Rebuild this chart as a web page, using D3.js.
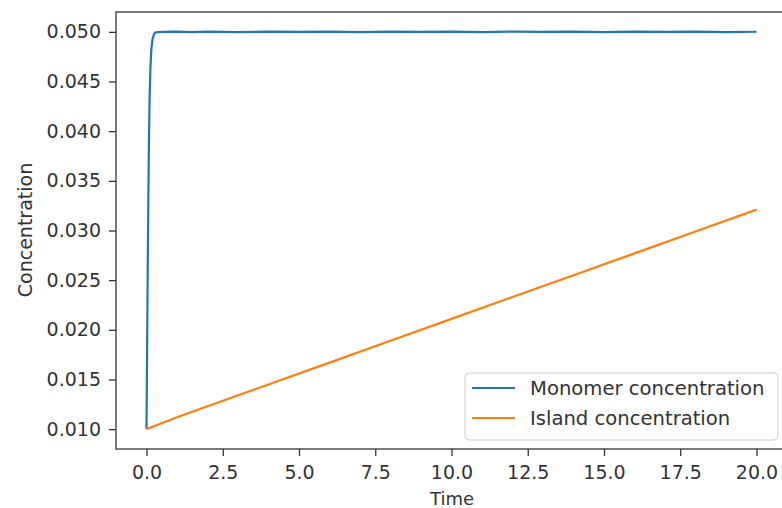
<!DOCTYPE html>
<html><head><meta charset="utf-8">
<script src="https://cdn.jsdelivr.net/npm/d3@7"></script>
<style>body{margin:0;background:#fff;} text{font-family:"DejaVu Sans",sans-serif;}</style>
</head><body><svg id="c" width="782" height="508"></svg>
<script>
const monomerTime = [0,0.02,0.04,0.06,0.08,0.1,0.13,0.16,0.2,0.25,0.3,0.5,1,1.5,2,3,4,5,6,7,8,9,10,11,12,13,14,15,16,17,18,19,20];
const monomerConc = [0.010,0.018,0.026,0.033,0.039,0.043,0.0465,0.0483,0.0493,0.0498,0.04995,0.0500,0.05003,0.04998,0.05002,0.04997,0.05003,0.04999,0.05002,0.04998,0.05003,0.04999,0.05002,0.04997,0.05003,0.04999,0.05002,0.04998,0.05003,0.04999,0.05002,0.04998,0.05001];
const islandTime = [0,0.5,1,2,4,6,8,10,12,14,16,18,20];
const islandConc = [0.0100,0.0106,0.0112,0.0123,0.0145,0.0167,0.0189,0.0211,0.0233,0.0255,0.0277,0.0299,0.0321];
const xTicks = [0,2.5,5,7.5,10,12.5,15,17.5,20];
const yTicks = [0.010,0.015,0.020,0.025,0.030,0.035,0.040,0.045,0.050];
const seriesNames = ["Monomer concentration","Island concentration"];
const colors = ["#1f77b4","#ff7f0e"];

const FS = 19;
const svg = d3.select("#c");
const L=116, R=787, T=12, B=449;
const x = d3.scaleLinear().domain([-1,21]).range([L,R]);
const y = d3.scaleLinear().domain([0.008,0.052]).range([B,T]);

const g = svg.append("g");
const line = d3.line().x(d=>x(d[0])).y(d=>y(d[1]));
const series = [d3.zip(monomerTime, monomerConc), d3.zip(islandTime, islandConc)];
series.forEach((s,i)=>{
  g.append("path").datum(s).attr("d",line).attr("fill","none")
   .attr("stroke",colors[i]).attr("stroke-width",2.2);
});

// frame
svg.append("rect").attr("x",L).attr("y",T).attr("width",R-L).attr("height",B-T)
  .attr("fill","none").attr("stroke","#333").attr("stroke-width",1.3);

const xa = svg.append("g").attr("transform",`translate(0,${B})`)
  .call(d3.axisBottom(x).tickValues(xTicks).tickFormat(d3.format(".1f")).tickSize(7).tickPadding(10));
const ya = svg.append("g").attr("transform",`translate(${L},0)`)
  .call(d3.axisLeft(y).tickValues(yTicks).tickFormat(d3.format(".3f")).tickSize(7).tickPadding(8));
[xa,ya].forEach(a=>{
  a.select(".domain").remove();
  a.selectAll("text").attr("font-size",FS).attr("fill","#333").attr("font-family","DejaVu Sans, sans-serif");
  a.selectAll("line").attr("stroke","#333").attr("stroke-width",1.3);
});

svg.append("text").attr("x",452).attr("y",505).attr("text-anchor","middle")
  .attr("font-size",18).attr("fill","#333").text("Time");
svg.append("text").attr("transform","translate(32,230) rotate(-90)").attr("text-anchor","middle")
  .attr("font-size",FS).attr("fill","#333").text("Concentration");

// legend
const lg = svg.append("g");
lg.append("rect").attr("x",465).attr("y",373).attr("width",313).attr("height",67).attr("rx",4)
  .attr("fill","#fff").attr("fill-opacity",0.8).attr("stroke","#ccc");
seriesNames.forEach((n,i)=>{
  const yy = 388 + i*30;
  lg.append("line").attr("x1",472).attr("x2",515).attr("y1",yy).attr("y2",yy)
    .attr("stroke",colors[i]).attr("stroke-width",2.2);
  lg.append("text").attr("x",530).attr("y",yy+7).attr("font-size",19.6).attr("fill","#333").text(n);
});
</script></body></html>
